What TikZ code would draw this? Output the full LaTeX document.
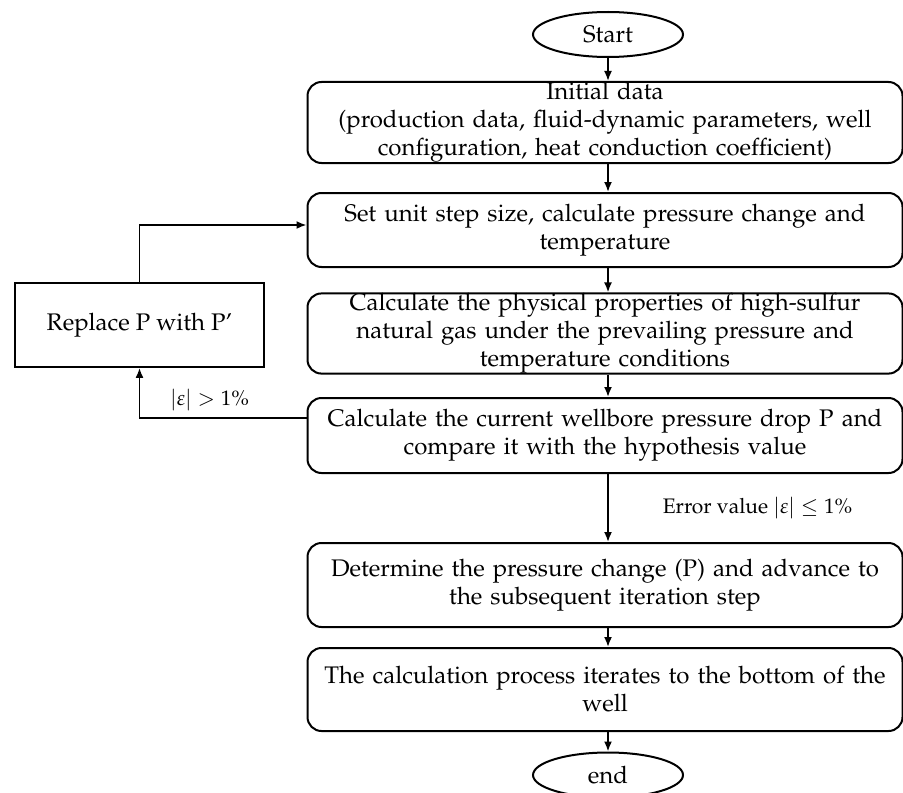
\documentclass[tikz,border=0pt]{standalone}
\usepackage[T1]{fontenc}
\usepackage{mathpazo}
\usetikzlibrary{positioning,shapes.geometric,arrows.meta}

\tikzset{
  stepbox/.style={draw,line width=1pt,rounded corners=7pt,minimum width=297.5pt,text width=292pt,align=center,inner xsep=2pt,inner ysep=0pt,font=\fontsize{12}{14}\selectfont},
  termnode/.style={draw,ellipse,line width=1pt,minimum width=75pt,minimum height=22.5pt,inner sep=0pt,font=\fontsize{12}{14}\selectfont},
  loopbox/.style={draw,line width=0.9pt,minimum width=124.5pt,minimum height=42pt,font=\fontsize{12}{14}\selectfont},
  arr/.style={line width=0.9pt,-{Latex[length=5pt,width=4pt]}},
  note/.style={font=\fontsize{10.5}{12}\selectfont,inner sep=1pt}
}

\begin{document}
\begin{tikzpicture}[x=0.5pt,y=-0.5pt]
\useasboundingbox (0,0) rectangle (903,792);
\node[termnode] (start) at (608,34.5) {Start};
\node[stepbox,minimum height=40.5pt] (init) at (605,122.5) {Initial data\\(production data, fluid-dynamic parameters, well\\configuration, heat conduction coefficient)};
\node[stepbox,minimum height=37pt] (setunit) at (605,230) {Set unit step size, calculate pressure change and\\temperature};
\node[stepbox,minimum height=36.5pt] (props) at (605,333.5) {Calculate the physical properties of high-sulfur\\natural gas under the prevailing pressure and\\temperature conditions};
\node[stepbox,minimum height=37.5pt] (drop) at (605,435.5) {Calculate the current wellbore pressure drop P and\\compare it with the hypothesis value};
\node[stepbox,minimum height=42pt] (advance) at (605,585) {Determine the pressure change (P) and advance to\\the subsequent iteration step};
\node[stepbox,minimum height=41.5pt] (bottom) at (605,689.5) {The calculation process iterates to the bottom of the\\well};
\node[termnode] (end) at (608,775) {end};
\node[loopbox] (replace) at (139.5,325) {Replace P with P'};

% main line
\draw[arr] (start.south) -- (init.north -| start);
\draw[arr] (init.south -| start) -- (setunit.north -| start);
\draw[arr] (setunit.south -| start) -- (props.north -| start);
\draw[arr] (props.south -| start) -- (drop.north -| start);
\draw[arr] (drop.south -| start) -- node[note,right,xshift=26pt] {Error value $|\varepsilon|\leq 1\%$} (advance.north -| start);
\draw[arr] (advance.south -| start) -- (bottom.north -| start);
\draw[arr] (bottom.south -| start) -- (end.north);

% loop back
\draw[arr] ([yshift=8.75pt]drop.west) -| node[note,above,pos=0.29,yshift=2pt] {$|\varepsilon|>1\%$} (replace.south);
\draw[arr] (replace.north) |- ([yshift=2.5pt]setunit.west);
\end{tikzpicture}
\end{document}
